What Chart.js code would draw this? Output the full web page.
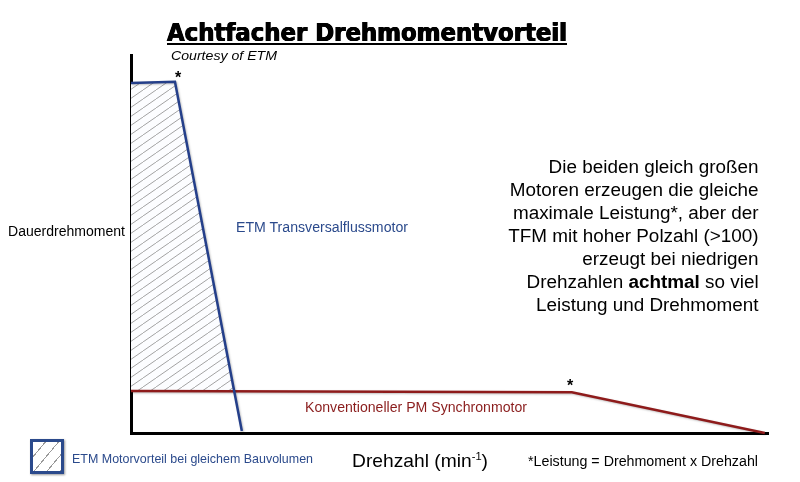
<!DOCTYPE html>
<html>
<head>
<meta charset="utf-8">
<script src="https://cdn.jsdelivr.net/npm/chart.js@4.4.0/dist/chart.umd.min.js"></script>
<style>
body { margin: 0; background: #fff; }
#wrap { position: relative; width: 800px; height: 482px; font-family: "Liberation Sans", Arial, sans-serif; color: #000; }
#chart { position: absolute; left: 0; top: 0; }
.t { position: absolute; white-space: nowrap; line-height: 1; }
#title { left: 167px; top: 20px; font-family: "DejaVu Sans", sans-serif; font-weight: bold; font-size: 25px;
  text-shadow: 0.6px 0 0 #000, -0.6px 0 0 #000, 0 0.4px 0 #000; }
#uline { position: absolute; left: 167px; top: 43px; width: 400px; height: 2px; background: #000; }
#courtesy { left: 171px; top: 49px; font-size: 13px; font-style: italic; }
#star1 { left: 175px; top: 70px; font-size: 16px; font-weight: bold; }
#star2 { left: 567px; top: 378px; font-size: 16px; font-weight: bold; }
#ylab { left: 8px; top: 224px; font-size: 14px; }
#etm { left: 236px; top: 220px; font-size: 14px; color: #2b4a8c; }
#note { right: 41px; top: 156px; font-size: 18px; line-height: 23px; text-align: right; }
#pm { left: 305px; top: 400px; font-size: 14px; color: #8a1c1c; }
#xlab { left: 352px; top: 451px; font-size: 19px; }
#xlab sup { font-size: 11px; vertical-align: 7px; line-height: 0; }
#power { left: 528px; top: 454px; font-size: 14px; }
#legtxt { left: 72px; top: 452px; font-size: 13px; color: #2b4a8c; }
#legbox { position: absolute; left: 30px; top: 439px; width: 28px; height: 29px; border: 3px solid #2b4a8c;
  background: repeating-linear-gradient(130deg, #fff 0px, #fff 9px, #999 9px, #999 10px); box-shadow: 1px 1px 2px #999; }
</style>
</head>
<body>
<div id="wrap">
  <canvas id="chart" width="800" height="482"></canvas>
  <div class="t" id="title" data-w="400">Achtfacher Drehmomentvorteil</div>
  <div id="uline"></div>
  <div class="t" id="courtesy" data-w="106">Courtesy of ETM</div>
  <div class="t" id="star1">*</div>
  <div class="t" id="star2">*</div>
  <div class="t" id="ylab" data-w="117">Dauerdrehmoment</div>
  <div class="t" id="etm" data-w="172">ETM Transversalflussmotor</div>
  <div class="t" id="note"><span id="l1">Die beiden gleich großen</span><br>Motoren erzeugen die gleiche<br>maximale Leistung*, aber der<br>TFM mit hoher Polzahl (&gt;100)<br>erzeugt bei niedrigen<br>Drehzahlen <b>achtmal</b> so viel<br>Leistung und Drehmoment</div>
  <div class="t" id="pm" data-w="222">Konventioneller PM Synchronmotor</div>
  <div class="t" id="xlab" data-w="136">Drehzahl (min<sup>-1</sup>)</div>
  <div class="t" id="power" data-w="230">*Leistung = Drehmoment x Drehzahl</div>
  <div id="legbox"></div>
  <div class="t" id="legtxt" data-w="241">ETM Motorvorteil bei gleichem Bauvolumen</div>
</div>
<script>
// Drehzahl (x) und Dauerdrehmoment (y), relative Einheiten 0..100
const tfmSpeed = [0, 6.9, 17.4];
const tfmTorque = [92.6, 92.9, 0.5];
const pmSpeed = [0, 69.2, 99.5];
const pmTorque = [11.1, 10.8, 0];

const blue = '#243f8a';
const red = '#8e1b1b';

// fit text widths to the reference
document.querySelectorAll('[data-w]').forEach(el => {
  const w = el.getBoundingClientRect().width;
  el.style.transformOrigin = 'left center';
  el.style.transform = 'scaleX(' + (+el.dataset.w / w) + ')';
});
const note = document.getElementById('note');
const l1w = document.getElementById('l1').getBoundingClientRect().width;
note.style.transformOrigin = 'right center';
note.style.transform = 'scaleX(' + (210 / l1w) + ')';

// where the TFM curve crosses the PM plateau
function crossing() {
  const x1 = tfmSpeed[1], y1 = tfmTorque[1], x2 = tfmSpeed[2], y2 = tfmTorque[2];
  const x3 = pmSpeed[0], y3 = pmTorque[0], x4 = pmSpeed[1], y4 = pmTorque[1];
  const a1 = (y2 - y1) / (x2 - x1), a2 = (y4 - y3) / (x4 - x3);
  const x = (y3 - a2 * x3 - y1 + a1 * x1) / (a1 - a2);
  return { x: x, y: y1 + a1 * (x - x1) };
}
const cross = crossing();

// hatch pattern
function hatch() {
  const c = document.createElement('canvas');
  const w = 13, h = 9;
  c.width = w; c.height = h;
  const g = c.getContext('2d');
  g.fillStyle = '#fcfdff';
  g.fillRect(0, 0, w, h);
  g.strokeStyle = '#999999';
  g.lineWidth = 0.9;
  g.beginPath();
  g.moveTo(-w, 2 * h); g.lineTo(2 * w, -h);
  g.stroke();
  return g.createPattern(c, 'repeat');
}

const toPts = (xs, ys) => xs.map((x, i) => ({ x: x, y: ys[i] }));

const lineShadow = {
  id: 'lineShadow',
  beforeDatasetDraw(chart, args) {
    if (args.index < 2) {
      chart.ctx.save();
      chart.ctx.shadowColor = 'rgba(0,0,0,0.25)';
      chart.ctx.shadowBlur = 2;
      chart.ctx.shadowOffsetX = 1;
      chart.ctx.shadowOffsetY = 1;
    }
  },
  afterDatasetDraw(chart, args) {
    if (args.index < 2) chart.ctx.restore();
  }
};

new Chart(document.getElementById('chart'), {
  type: 'line',
  data: {
    datasets: [
      {
        label: 'ETM Transversalflussmotor',
        data: toPts(tfmSpeed, tfmTorque),
        borderColor: blue,
        borderWidth: 2.5,
        pointRadius: 0,
        fill: false,
        clip: false,
        order: 0
      },
      {
        label: 'Konventioneller PM Synchronmotor',
        data: toPts(pmSpeed, pmTorque),
        borderColor: red,
        borderWidth: 2.5,
        pointRadius: 0,
        fill: false,
        clip: false,
        order: 1
      },
      {
        label: 'ETM Motorvorteil bei gleichem Bauvolumen',
        data: [{ x: tfmSpeed[0], y: tfmTorque[0] }, { x: tfmSpeed[1], y: tfmTorque[1] }, cross],
        borderWidth: 0,
        pointRadius: 0,
        backgroundColor: hatch(),
        fill: { value: pmTorque[0] },
        order: 2
      }
    ]
  },
  options: {
    responsive: false,
    animation: false,
    layout: { padding: { left: 131, top: 55, right: 32, bottom: 49 } },
    plugins: { legend: { display: false }, tooltip: { enabled: false }, title: { display: false } },
    scales: {
      x: {
        type: 'linear', min: 0, max: 100,
        ticks: { display: false },
        grid: { display: false, drawTicks: false },
        border: { display: true, color: '#000', width: 3 }
      },
      y: {
        type: 'linear', min: 0, max: 100,
        ticks: { display: false },
        grid: { display: false, drawTicks: false },
        border: { display: true, color: '#000', width: 3 }
      }
    }
  },
  plugins: [lineShadow]
});
</script>
</body>
</html>
